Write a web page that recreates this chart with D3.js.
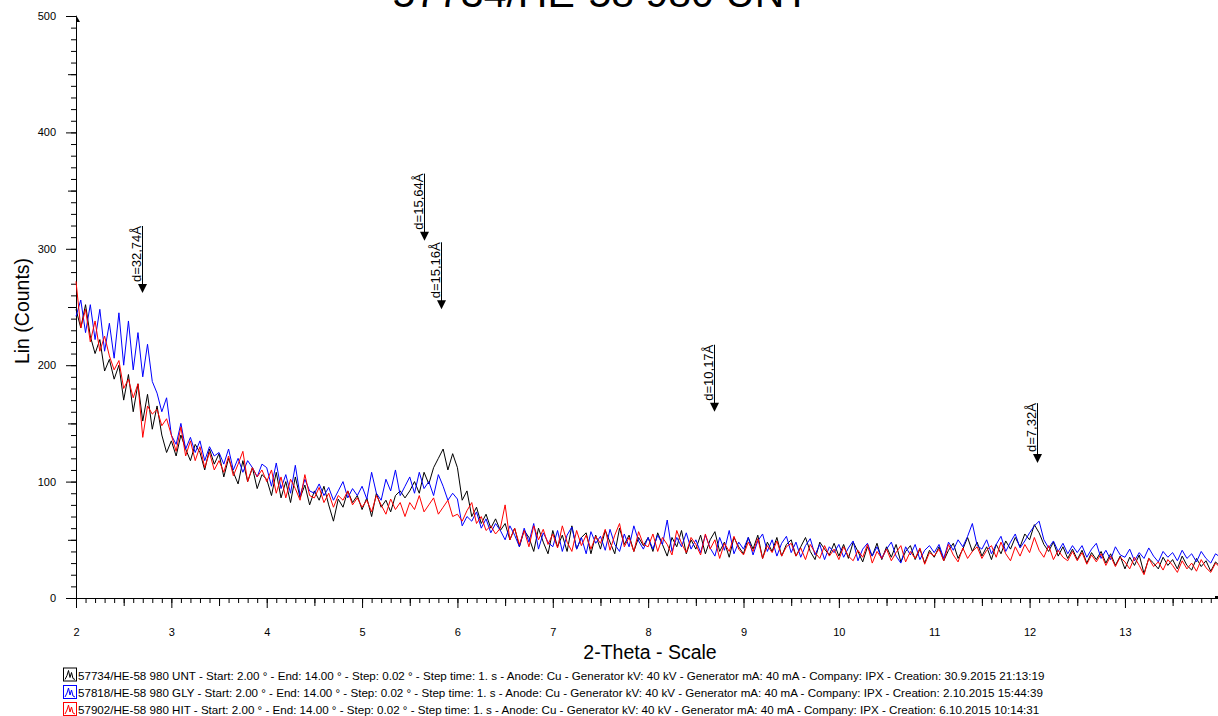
<!DOCTYPE html>
<meta charset="utf-8">
<script src="https://d3js.org/d3.v7.min.js"></script>
<style>
  body { margin: 0; background: #fff; }
  text { font-family: "Liberation Sans", Arial, sans-serif; }
</style>
<svg width="1218" height="716"></svg>
<script>

    // scan grid (degrees 2-theta), values every 0.05 deg
    const start = 2, step = 0.05;

    const unt = [
        248, 232, 252, 225, 210, 222, 195, 205, 188, 200,
        170, 192, 160, 184, 152, 175, 145, 165, 140, 125,
        135, 122, 140, 128, 118, 132, 125, 110, 128, 115,
        124, 104, 120, 108, 98, 118, 100, 112, 94, 106,
        102, 88, 108, 86, 100, 82, 104, 86, 97, 80,
        92, 84, 96, 80, 66, 85, 78, 92, 82, 88,
        76, 86, 70, 90, 78, 84, 74, 88, 92, 86,
        92, 100, 90, 108, 98, 112, 120, 128, 110, 124,
        112, 84, 92, 70, 78, 64, 72, 60, 68, 58,
        64, 50, 60, 44, 58, 52, 40, 60, 48, 38,
        58, 44, 54, 40, 62, 42, 52, 56, 38, 54,
        42, 58, 48, 38, 60, 46, 54, 40, 52, 45,
        52, 40, 56, 46, 36, 52, 44, 58, 38, 50,
        42, 54, 38, 50, 57, 40, 48, 35, 52, 44,
        38, 52, 42, 54, 34, 48, 40, 52, 36, 46,
        50, 36, 44, 52, 40, 33, 48, 42, 37, 47,
        36, 46, 34, 48, 40, 31, 44, 36, 47, 33,
        44, 35, 46, 31, 40, 45, 33, 42, 30, 41,
        35, 44, 32, 41, 47, 34, 42, 52, 40, 48,
        36, 44, 33, 46, 38, 49, 42, 52, 44, 55,
        50, 63, 56, 46, 40, 48, 36, 44, 34, 42,
        33, 41, 30, 39, 33, 40, 30, 38, 28, 36,
        25, 35, 28, 37, 21, 34, 30, 25, 35, 28,
        33, 25, 36, 28, 24, 34, 27, 32, 23, 31,
        27
    ];

    const gly = [
        242, 256, 228, 252, 222, 248, 212, 236, 206, 245,
        200, 238, 196, 228, 190, 218, 186, 176, 160, 172,
        140, 132, 150, 128, 138, 125, 135, 118, 130, 122,
        125, 115, 128, 110, 120, 108, 118, 112, 104, 115,
        112, 96, 116, 94, 106, 90, 114, 88, 102, 92,
        90, 98, 88, 95, 84, 92, 100, 86, 94, 88,
        96, 85, 108, 90, 84, 102, 92, 110, 88, 96,
        104, 90, 108, 94, 100, 88, 106, 96, 84, 90,
        85, 62, 70, 66, 74, 60, 68, 56, 64, 58,
        50, 62, 54, 44, 60, 48, 64, 42, 56, 48,
        44, 58, 40, 54, 61, 42, 52, 38, 57, 47,
        53, 41, 59, 46, 40, 55, 44, 62, 49, 42,
        52, 42, 54, 46, 67, 40, 52, 44, 56, 42,
        50, 39, 54, 43, 36, 52, 41, 58, 38, 48,
        42, 52, 37, 49, 55, 40, 50, 36, 47, 53,
        39, 48, 35, 45, 51, 37, 46, 33, 44, 39,
        46, 35, 43, 49, 32, 42, 47, 36, 44, 34,
        42, 48, 36, 30, 44, 37, 46, 33, 41, 45,
        39, 46, 34, 48, 41, 50, 44, 53, 64, 45,
        42, 50, 38, 46, 53, 40, 48, 55, 43, 49,
        56, 62, 66, 50, 43, 49, 40, 47, 38, 45,
        39, 45, 35, 42, 47, 34, 41, 33, 44, 37,
        35, 42, 32, 39, 34, 43, 36, 31, 40, 35,
        39, 32, 41, 34, 38, 31, 40, 34, 30, 38,
        35
    ];

    const hit = [
        272, 232, 248, 220, 238, 212, 225, 208, 196, 204,
        180, 188, 172, 184, 138, 165, 158, 162, 148, 154,
        140, 126, 147, 122, 135, 118, 130, 112, 125, 110,
        118, 108, 122, 105, 115, 126, 100, 112, 104, 110,
        100, 110, 90, 104, 86, 102, 94, 84, 106, 88,
        86, 95, 82, 90, 78, 88, 84, 92, 80, 86,
        78, 84, 74, 88, 80, 72, 85, 76, 82, 70,
        82, 76, 88, 74, 80, 86, 72, 78, 84, 70,
        72, 66, 75, 82, 64, 70, 58, 62, 55, 60,
        80, 50, 60, 46, 58, 44, 62, 50, 59, 46,
        55, 43, 62, 48, 40, 58, 45, 54, 42, 53,
        47, 59, 41, 54, 64, 44, 52, 40, 57, 46,
        44, 55, 40, 52, 46, 37, 58, 47, 39, 52,
        46, 37, 55, 42, 50, 34, 47, 40, 53, 42,
        37, 48, 40, 51, 34, 45, 39, 49, 36, 44,
        47, 36, 43, 33, 46, 39, 34, 45, 36, 42,
        33, 44, 36, 32, 41, 35, 46, 30, 40, 34,
        42, 32, 39, 45, 31, 40, 34, 43, 29, 39,
        36, 42, 32, 46, 37, 31, 43, 34, 40, 44,
        34, 41, 45, 35, 48, 38, 32, 44, 36, 46,
        39, 52, 41, 35, 45, 33, 41, 35, 32, 40,
        32, 39, 29, 37, 31, 38, 28, 36, 27, 35,
        31, 25, 35, 28, 20, 34, 27, 31, 24, 33,
        28, 22, 32, 25, 30, 23, 33, 26, 22, 30,
        26
    ];

    const scanNames = ["57734/HE-58 980 UNT", "57818/HE-58 980 GLY", "57902/HE-58 980 HIT"];
    const creation = ["30.9.2015 21:13:19", "2.10.2015 15:44:39", "6.10.2015 10:14:31"];
    const colors = ["#000000", "#0000ff", "#ff0000"];

    // d-spacing markers (Angstrom) and the count level the arrow points at
    const dValues = [32.74, 15.64, 15.16, 10.17, 7.32];
    const dLabels = ["d=32,74Å", "d=15,64Å", "d=15,16Å", "d=10,17Å", "d=7,32Å"];
    const dLevels = [262, 307, 248, 160, 116];

    const xTickLabels = [2, 3, 4, 5, 6, 7, 8, 9, 10, 11, 12, 13];
    const yTickLabels = [0, 100, 200, 300, 400, 500];

    const svg = d3.select("svg");

    const x = d3.scaleLinear().domain([2, 14]).range([76, 1220.3]);
    const y = d3.scaleLinear().domain([0, 500]).range([598, 16]);

    // title (sits partly above the page, like the original export)
    svg.append("text")
        .attr("x", 601).attr("y", 7)
        .attr("text-anchor", "middle")
        .style("font-size", "41px")
        .text(scanNames[0]);

    // y axis: major / half / minor ticks
    const yMajor = svg.append("g").attr("transform", "translate(76,0)")
        .call(d3.axisLeft(y).tickValues(yTickLabels).tickSize(10).tickSizeOuter(0).tickPadding(10));
    yMajor.selectAll("text").style("font-size", "11px").style("font-family", "Liberation Sans, Arial, sans-serif");
    svg.append("g").attr("transform", "translate(76,0)")
        .call(d3.axisLeft(y).tickValues(d3.range(50, 500, 100)).tickSize(8).tickFormat(""))
        .select(".domain").remove();
    svg.append("g").attr("transform", "translate(76,0)")
        .call(d3.axisLeft(y).tickValues(d3.range(0, 501, 10)).tickSize(5).tickFormat(""))
        .select(".domain").remove();

    // x axis
    const xMajor = svg.append("g").attr("transform", "translate(0,598)")
        .call(d3.axisBottom(x).tickValues(xTickLabels).tickSize(10).tickSizeOuter(0).tickPadding(20));
    xMajor.selectAll("text").style("font-size", "11px").style("font-family", "Liberation Sans, Arial, sans-serif");
    svg.append("g").attr("transform", "translate(0,598)")
        .call(d3.axisBottom(x).tickValues(d3.range(25, 140, 10).map(v => v / 10)).tickSize(8).tickFormat(""))
        .select(".domain").remove();
    svg.append("g").attr("transform", "translate(0,598)")
        .call(d3.axisBottom(x).tickValues(d3.range(20, 140).map(v => v / 10)).tickSize(5).tickFormat(""))
        .select(".domain").remove();

    // little end markers of the axes
    svg.append("path").attr("d", "M76,15 L80,22 L76,22 Z").attr("fill", "#000");
    svg.append("rect").attr("x", 1215).attr("y", 596).attr("width", 3).attr("height", 3).attr("fill", "#000");

    // axis titles
    svg.append("text")
        .attr("transform", "translate(29,311) rotate(-90)")
        .attr("text-anchor", "middle")
        .style("font-size", "19.5px")
        .text("Lin (Counts)");
    svg.append("text")
        .attr("x", 650).attr("y", 659)
        .attr("text-anchor", "middle")
        .style("font-size", "19.5px")
        .text("2-Theta - Scale");

    // scans
    const line = d3.line()
        .x((d, i) => x(start + i * step))
        .y(d => y(d));

    [unt, gly, hit].forEach((s, k) => {
        svg.append("path")
            .attr("d", line(s))
            .attr("fill", "none")
            .attr("stroke", colors[k])
            .attr("stroke-width", 1);
    });

    // d-spacing arrows (Cu K-alpha)
    const lambda = 1.5406;
    dValues.forEach((d, i) => {
        const tth = 2 * Math.asin(lambda / (2 * d)) * 180 / Math.PI;
        const px = Math.round(x(tth)) + 0.5;
        const tip = y(dLevels[i]);
        const t = svg.append("text")
            .attr("transform", "translate(" + (px - 2) + "," + (tip - 11) + ") rotate(-90)")
            .style("font-size", "13px")
            .text(dLabels[i]);
        const len = t.node().getComputedTextLength();
        svg.append("line")
            .attr("x1", px).attr("x2", px)
            .attr("y1", tip - 11 - len).attr("y2", tip - 4)
            .attr("stroke", "#000");
        svg.append("path")
            .attr("d", "M" + (px - 4.5) + "," + (tip - 9) + " L" + (px + 4.5) + "," + (tip - 9) + " L" + px + "," + tip + " Z")
            .attr("fill", "#000");
    });

    // legend
    const legendY = [679.5, 697, 714];
    scanNames.forEach((name, k) => {
        const by = legendY[k];
        svg.append("rect")
            .attr("x", 63.5).attr("y", by - 11.5)
            .attr("width", 13).attr("height", 13)
            .attr("fill", "#fff").attr("stroke", colors[k]);
        svg.append("path")
            .attr("d", "M65," + (by) + " L67," + (by - 4) + " L68.5," + (by - 9) + " L70," + (by - 2) +
                " L71.5," + (by - 7) + " L73," + (by - 1) + " L75," + by)
            .attr("fill", "none").attr("stroke", colors[k]);
        svg.append("text")
            .attr("x", 78).attr("y", by)
            .style("font-size", "11.6px")
            .text(name + " - Start: 2.00 ° - End: 14.00 ° - Step: 0.02 ° - Step time: 1. s - Anode: Cu - Generator kV: 40 kV - Generator mA: 40 mA - Company: IPX - Creation: " + creation[k]);
    });

</script>
